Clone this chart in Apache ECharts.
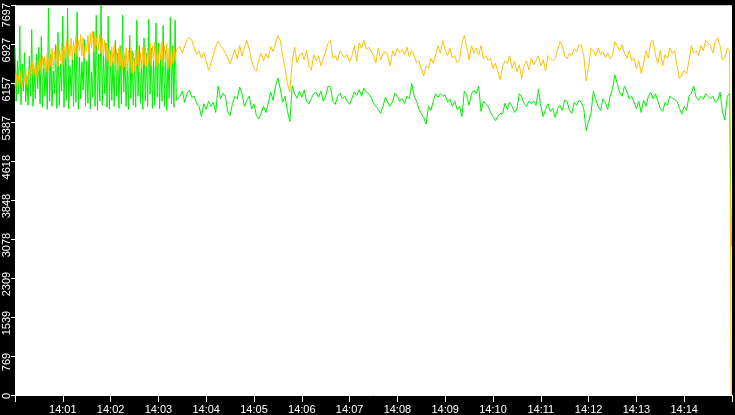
<!DOCTYPE html>
<html>
<head>
<meta charset="utf-8">
<title>chart</title>
<script src="https://cdn.jsdelivr.net/npm/echarts@6/dist/echarts.min.js"></script>
<style>
html, body { margin: 0; padding: 0; background: #000; }
#chart { width: 735px; height: 415px; }
</style>
</head>
<body>
<div id="chart"></div>
<script>
// tick labels
var yTickLabels = ['0', '769', '1539', '2309', '3078', '3848', '4618', '5387', '6157', '6927', '7697'];
var xTickLabels = ['', '14:01', '14:02', '14:03', '14:04', '14:05', '14:06', '14:07', '14:08',
    '14:09', '14:10', '14:11', '14:12', '14:13', '14:14', ''];
var yMax = 7697;

// sample times (seconds after 14:00:00)
var stepA = 1.5;      // first part, fast alternating samples
var startB = 204;     // second part starts at 14:03:24
var stepB = 3;
var endTime = 899;    // last sample, where both lines drop

// first part (14:00:00 - 14:03:22)
var greenA = [
    6865, 5800, 6600, 5950, 7290, 5730, 6540, 6000, 6760, 5790,
    6300, 5720, 6690, 5900, 7215, 5700, 6440, 5850, 6730, 6050,
    6865, 5750, 7080, 5680, 6640, 5900, 6480, 5640, 7640, 5800,
    6730, 5700, 6400, 5950, 6920, 5660, 7160, 5720, 6540, 6000,
    7480, 5680, 6790, 5820, 7640, 5650, 6500, 5900, 6670, 5700,
    6860, 5780, 7560, 5640, 6670, 5850, 6580, 6020, 7020, 5700,
    6600, 5760, 6920, 5650, 6380, 5880, 7175, 5700, 7500, 5620,
    6730, 5800, 7697, 5720, 6700, 5950, 6950, 5680, 7480, 5640,
    6800, 5820, 6600, 5700, 7000, 5900, 6750, 5660, 6900, 5750,
    7500, 5980, 6700, 5700, 6550, 5640, 7100, 5850, 6800, 5720,
    6650, 5680, 7400, 5900, 6900, 5760, 6600, 5640, 7050, 5800,
    6750, 5700, 7420, 5940, 6850, 5660, 6600, 5720, 7350, 5880,
    6950, 5650, 6700, 5800, 7300, 5700, 6800, 5620, 6650, 5860,
    7460, 5750, 6900, 5680, 7400, 5820
];
var orangeA = [
    6100, 6350, 6050, 6300, 6150, 6400, 6080, 6250, 6200, 6420,
    6120, 6380, 6250, 6500, 6300, 6600, 6350, 6550, 6280, 6650,
    6400, 6620, 6340, 6700, 6450, 6680, 6380, 6750, 6420, 6800,
    6500, 6850, 6450, 6780, 6550, 6900, 6480, 6820, 6600, 6950,
    6520, 6880, 6650, 7000, 6580, 6920, 6700, 7050, 6620, 6980,
    6750, 7080, 6680, 7000, 6800, 7120, 6700, 7060, 6650, 6950,
    6780, 7100, 6720, 7150, 6850, 7180, 6780, 7100, 6900, 7200,
    6800, 7120, 6750, 7050, 6700, 7000, 6650, 6950, 6600, 6900,
    6500, 6880, 6550, 6920, 6450, 6820, 6400, 6850, 6500, 6900,
    6420, 6780, 6480, 6860, 6400, 6800, 6450, 6850, 6350, 6750,
    6400, 6820, 6500, 6880, 6380, 6760, 6450, 6860, 6520, 6900,
    6480, 6850, 6550, 6950, 6500, 6900, 6600, 6980, 6480, 6880,
    6550, 6950, 6620, 6980, 6500, 6900, 6560, 6940, 6450, 6850,
    6500, 6880, 6550, 6860, 6600, 6820
];

// second part (14:03:24 - 14:14:57), one sample every 3 s
var greenB = [
    5840, 5900, 6000, 5780, 5960, 6020, 5880, 5900, 5760, 5700,
    5500, 5750, 5640, 5800, 5700, 5780, 5580, 6100, 5850, 5960,
    5900, 5600, 5520, 5760, 5900, 5850, 6080, 5950, 5700, 5820,
    5900, 5650, 5750, 5520, 5450, 5560, 5700, 5580, 5760, 5980,
    5820, 6100, 6260, 6050, 5780, 5900, 5600, 5400, 6100, 5950,
    5860, 6000, 5880, 6020, 5800, 5750, 5860, 5950, 5980, 5880,
    6000, 5800, 5900, 6100, 6080, 5800, 5740, 5900, 5960, 5850,
    5900, 5800, 5740, 5860, 5990, 5920, 6030, 5900, 6060, 5980,
    5950, 5880, 5760, 5700, 5640, 5560, 5700, 5880, 5780, 5700,
    5800, 5960, 5900, 5800, 5860, 5760, 5900, 5850, 6150, 5900,
    5800, 5650, 5560, 5480, 5350, 5700, 5620, 5800, 5950, 5880,
    5950, 5900, 5920, 5780, 5840, 5700, 5800, 5640, 5700, 5500,
    6000, 5920, 5720, 5950, 6020, 5950, 6100, 5600, 5800, 5740,
    5700, 5580, 5500, 5420, 5500, 5560, 5550, 5760, 5640, 5780,
    5700, 5580, 5650, 5950, 5880, 5760, 5700, 5800, 5760, 5800,
    5720, 6040, 5700, 5500, 5640, 5750, 5600, 5660, 5480, 5650,
    5720, 5620, 5820, 5800, 5620, 5560, 5780, 5720, 5820, 5780,
    5640, 5220, 5400, 5560, 6000, 5840, 5700, 5620, 5850, 5780,
    5640, 5900, 6050, 6320, 6150, 5980, 5900, 6100, 6000, 5850,
    5900, 5780, 5650, 5800, 5580, 5820, 5700, 5900, 5980, 5850,
    5950, 5800, 5650, 5600, 5780, 5720, 5900, 5860, 5840, 5800,
    5660, 5550, 5700, 5620, 5900, 5960, 6100, 5880, 5820, 5900,
    5840, 5950, 5900, 5850, 5900, 5780, 5820, 5980, 5600, 5435,
    5900, 5960
];
var orangeB = [
    6827, 6880, 6750, 6900, 7020, 7060, 7000, 6850, 6720, 6800,
    6650, 6760, 6600, 6410, 6560, 6720, 6880, 6990, 6900, 6840,
    6760, 6650, 6540, 6690, 6820, 6640, 6900, 6700, 6860, 7000,
    6830, 6600, 6450, 6400, 6620, 6750, 6600, 6740, 6650, 6880,
    6780, 6950, 7100, 7000, 6700, 6450, 6150, 5990, 6600, 6870,
    6560, 6700, 6760, 6620, 6800, 6500, 6420, 6720, 6600, 6700,
    6500, 6640, 6800, 6950, 7000, 6650, 6700, 6600, 6800, 6720,
    6660, 6720, 6580, 6700, 6900, 6600, 6950, 6850, 7000, 6830,
    6865, 6800, 6700, 6560, 6850, 6620, 6750, 6780, 6700, 6500,
    6800, 6700, 6850, 6760, 6820, 6720, 6870, 6680, 6800, 6700,
    6560, 6600, 6450, 6300, 6500, 6450, 6650, 6550, 6720, 6900,
    6750, 7000, 6820, 6700, 6850, 6650, 6700, 6560, 6620, 6950,
    7100, 6880, 6620, 6900, 6750, 6850, 6720, 6900, 6640, 6700,
    6600, 6650, 6450, 6550, 6400, 6230, 6480, 6600, 6550, 6700,
    6450, 6600, 6380, 6520, 6250, 6500, 6600, 6420, 6650, 6520,
    6600, 6700, 6500, 6620, 6400, 6700, 6650, 6600, 6650, 6800,
    6980, 6900, 6700, 6640, 6750, 6700, 6840, 6780, 6920, 6900,
    6700, 6200, 6480, 6850, 6800, 6700, 6850, 6720, 6780, 6660,
    6750, 6640, 6700, 6980, 6880, 6800, 6920, 6750, 6650, 6800,
    6600, 6660, 6450, 6600, 6350, 6550, 6800, 6650, 6960, 7000,
    6700, 6550, 6800, 6500, 6720, 6650, 6850, 6740, 6800, 6500,
    6250, 6320, 6420, 6350, 6600, 6900, 6750, 6800, 6700, 6900,
    6800, 7000, 6950, 6900, 6750, 6980, 7050, 6900, 6620, 6650,
    6850, 6800
];
var greenEnd = 2940;
var orangeEnd = 0;

function buildSeries(partA, partB, last) {
    var out = [];
    for (var i = 0; i < partA.length; i++) {
        out.push([i * stepA, partA[i]]);
    }
    for (var j = 0; j < partB.length; j++) {
        out.push([startB + j * stepB, partB[j]]);
    }
    out.push([endTime, last]);
    return out;
}

var chart = echarts.init(document.getElementById('chart'));

var labelFont = {
    color: '#fff',
    fontFamily: 'Liberation Sans',
    fontSize: 11
};

var option = {
    animation: false,
    backgroundColor: '#000',
    grid: {
        left: 15,
        right: 0,
        top: 0,
        bottom: 16,
        show: true,
        backgroundColor: '#fff',
        borderWidth: 0
    },
    xAxis: {
        type: 'value',
        min: 0,
        max: 900,
        interval: 60,
        axisLine: { lineStyle: { color: '#fff', width: 1 } },
        axisTick: { show: true, length: 7, lineStyle: { color: '#fff' } },
        splitLine: { show: false },
        axisLabel: {
            color: '#fff',
            fontFamily: 'Liberation Sans',
            fontSize: 11,
            margin: 9,
            formatter: function (v) {
                return xTickLabels[Math.round(v / 60)] || '';
            }
        }
    },
    yAxis: {
        type: 'value',
        min: 0,
        max: yMax,
        interval: yMax / 10,
        axisLine: { show: true, lineStyle: { color: '#fff', width: 1 } },
        axisTick: { show: true, length: 4, lineStyle: { color: '#fff' } },
        splitLine: { show: false },
        axisLabel: {
            rotate: 90,
            margin: 3,
            color: '#fff',
            fontFamily: 'Liberation Sans',
            fontSize: 11,
            formatter: function (v) {
                var k = Math.round(v / (yMax / 10));
                var s = yTickLabels[k];
                if (k === 0) return '{z|' + s + '}';
                if (k === 10) return '{t|' + s + '}';
                return '{n|' + s + '}';
            },
            rich: {
                z: Object.assign({ padding: [0, 2, 0, 0] }, labelFont),
                n: Object.assign({ padding: [0, 12, 0, 0] }, labelFont),
                t: Object.assign({ padding: [0, 20, 0, 0] }, labelFont)
            }
        }
    },
    series: [
        {
            name: 'green',
            type: 'line',
            showSymbol: false,
            symbol: 'none',
            lineStyle: { color: '#00ee00', width: 1 },
            itemStyle: { color: '#00ee00' },
            data: buildSeries(greenA, greenB, greenEnd)
        },
        {
            name: 'orange',
            type: 'line',
            showSymbol: false,
            symbol: 'none',
            lineStyle: { color: '#ffc000', width: 1 },
            itemStyle: { color: '#ffc000' },
            data: buildSeries(orangeA, orangeB, orangeEnd)
        }
    ]
};

chart.setOption(option);
</script>
</body>
</html>
